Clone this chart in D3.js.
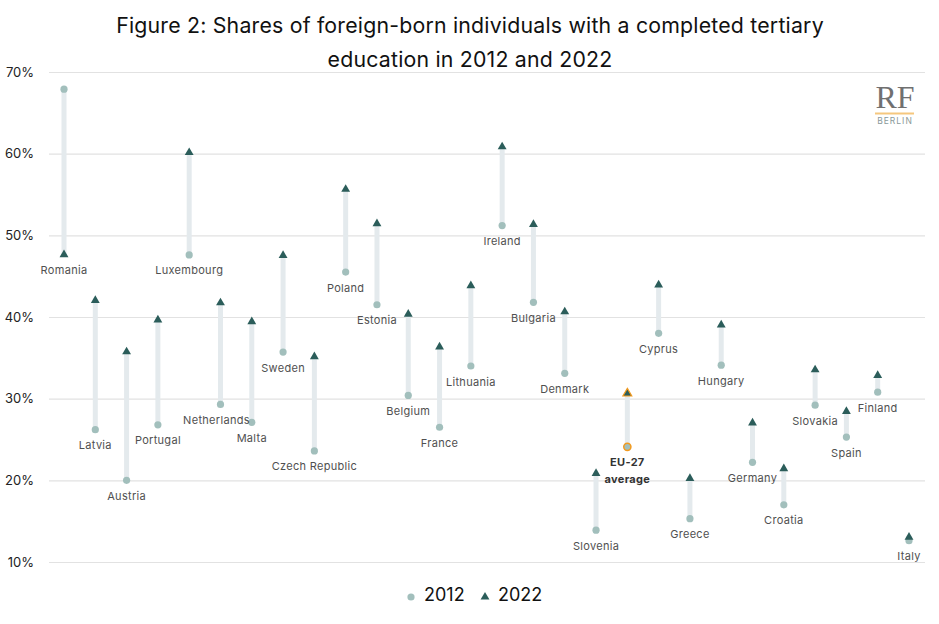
<!DOCTYPE html>
<html lang="en">
<head>
  <meta charset="utf-8">
  <title>Figure 2</title>
  <style>
    body { margin: 0; background: #fff; }
    svg { display: block; font-family: "Inter", "Noto Sans", sans-serif; }
  </style>
</head>
<body>
  <script src="https://cdn.jsdelivr.net/npm/d3@7/dist/d3.min.js"></script>
  <script>
    var w = 939
    var h = 624

    // data
    var countries = ["Romania", "Latvia", "Austria", "Portugal", "Luxembourg", "Netherlands", "Malta",
      "Sweden", "Czech Republic", "Poland", "Estonia", "Belgium", "France", "Lithuania", "Ireland",
      "Bulgaria", "Denmark", "Slovenia", "EU-27 average", "Cyprus", "Greece", "Hungary", "Germany",
      "Croatia", "Slovakia", "Spain", "Finland", "Italy"];
    var v2012 = [67.9, 26.2, 20.0, 26.8, 47.6, 29.3, 27.1, 35.7, 23.6, 45.5, 41.5, 30.4, 26.5, 34.0,
      51.2, 41.8, 33.1, 13.9, 24.1, 38.0, 15.3, 34.1, 22.2, 17.0, 29.2, 25.3, 30.8, 12.6];
    var v2022 = [47.7, 42.1, 35.8, 39.7, 60.2, 41.8, 39.5, 47.6, 35.2, 55.7, 51.5, 40.4, 36.4, 43.9,
      60.9, 51.4, 40.7, 20.9, 30.7, 44.0, 20.3, 39.1, 27.1, 21.5, 33.6, 28.5, 32.9, 13.1];
    var yTicks = [10, 20, 30, 40, 50, 60, 70];

    var svg = d3.select("body").append("svg")
      .attr("width", w)
      .attr("height", h);

    var x = d3.scalePoint().domain(countries).range([64, 909]).padding(0);
    var y = d3.scaleLinear().domain([10, 70]).range([562, 72]);

    // title
    var title = svg.append("text")
      .attr("text-anchor", "middle")
      .attr("font-size", 21.3)
      .attr("letter-spacing", 0.2)
      .attr("fill", "#111");
    title.append("tspan").attr("x", 470).attr("y", 33)
      .text("Figure 2: Shares of foreign-born individuals with a completed tertiary");
    title.append("tspan").attr("x", 470).attr("y", 67)
      .text("education in 2012 and 2022");

    // grid + y labels
    var yAxis = d3.axisLeft(y).tickValues(yTicks).tickSize(-(925 - 49)).tickFormat(function (d) { return d + "%"; });
    var ga = svg.append("g").attr("transform", "translate(49,0)").call(yAxis);
    ga.select(".domain").remove();
    ga.selectAll(".tick line").attr("stroke", "#e2e2e2").attr("stroke-width", 1.2);
    ga.selectAll(".tick text").attr("x", -15).attr("font-size", 13).attr("fill", "#222")
      .attr("font-family", "Inter, sans-serif");

    // logo
    svg.append("text").attr("x", 895).attr("y", 108).attr("text-anchor", "middle")
      .attr("font-family", "'Liberation Serif', serif").attr("font-size", 32).attr("fill", "#707070").text("RF");
    svg.append("line").attr("x1", 875).attr("x2", 914).attr("y1", 113.5).attr("y2", 113.5)
      .attr("stroke", "#f5c77e").attr("stroke-width", 2);
    svg.append("text").attr("x", 895).attr("y", 124).attr("text-anchor", "middle")
      .attr("font-size", 8.5).attr("letter-spacing", 1).attr("fill", "#8a9a9a").text("BERLIN");

    var rows = countries.map(function (c, i) { return { name: c, a: v2012[i], b: v2022[i] }; });

    // stems
    svg.append("g").selectAll("line").data(rows).join("line")
      .attr("x1", function (d) { return x(d.name); })
      .attr("x2", function (d) { return x(d.name); })
      .attr("y1", function (d) { return y(d.a); })
      .attr("y2", function (d) { return y(d.b); })
      .attr("stroke", "#e4eaed").attr("stroke-width", 5);

    var tri = d3.symbol().type(d3.symbolTriangle).size(34);

    // 2012 circles
    svg.append("g").selectAll("circle").data(rows).join("circle")
      .attr("cx", function (d) { return x(d.name); })
      .attr("cy", function (d) { return y(d.a); })
      .attr("r", 3.6)
      .attr("fill", "#a2bfbc")
      .attr("stroke", function (d) { return d.name == "EU-27 average" ? "#f29a1f" : "none"; })
      .attr("stroke-width", 1.5);

    // 2022 triangles
    svg.append("g").selectAll("path").data(rows).join("path")
      .attr("d", tri)
      .attr("transform", function (d) { return "translate(" + x(d.name) + "," + (y(d.b) + 0.5) + ")"; })
      .attr("fill", "#2b5d5a")
      .attr("stroke", function (d) { return d.name == "EU-27 average" ? "#f29a1f" : "none"; })
      .attr("stroke-width", 1.2);

    // country labels under lower marker
    var shift = { "Netherlands": -4 };
    var lab = svg.append("g").selectAll("text").data(rows).join("text")
      .attr("text-anchor", "middle")
      .attr("font-size", 11)
      .attr("letter-spacing", 0.3)
      .attr("fill", "#505050")
      .attr("x", function (d) { return x(d.name) + (shift[d.name] || 0); })
      .attr("y", function (d) { return y(Math.min(d.a, d.b)) + 19.5; });
    lab.filter(function (d) { return d.name != "EU-27 average"; }).text(function (d) { return d.name; });
    var eu = lab.filter(function (d) { return d.name == "EU-27 average"; })
      .attr("font-weight", "bold").attr("fill", "#333");
    eu.append("tspan").attr("x", function (d) { return x(d.name); }).text("EU-27");
    eu.append("tspan").attr("x", function (d) { return x(d.name); }).attr("dy", 17).text("average");

    // legend
    var lg = svg.append("g");
    lg.append("circle").attr("cx", 411).attr("cy", 597).attr("r", 3.6).attr("fill", "#a2bfbc");
    lg.append("text").attr("x", 424).attr("y", 601).attr("font-size", 18).attr("fill", "#111").text("2012");
    lg.append("path").attr("d", tri).attr("transform", "translate(485,597)").attr("fill", "#2b5d5a");
    lg.append("text").attr("x", 498).attr("y", 601).attr("font-size", 18).attr("fill", "#111").text("2022");
  </script>
</body>
</html>
